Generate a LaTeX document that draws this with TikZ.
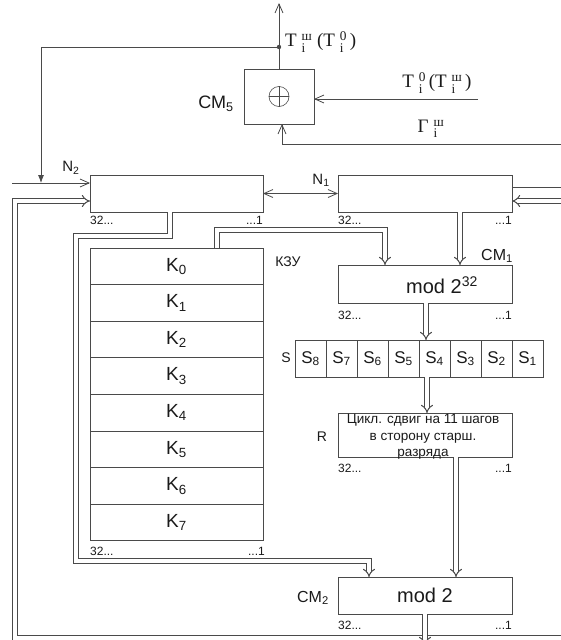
\documentclass[tikz,border=0pt]{standalone}
\usepackage{fontspec}
\usepackage{amsmath}
\setmainfont{Liberation Sans}
\newfontfamily\serifTR{Liberation Serif}
\usetikzlibrary{arrows.meta,calc}
\definecolor{lc}{HTML}{4A4A4A}
\definecolor{tc}{HTML}{1A1A1A}
\tikzset{
 box/.style={draw=lc, line width=0.8pt, rectangle, inner sep=0pt, outer sep=0pt, anchor=north west, text=tc},
 sl/.style={draw=lc, line width=0.8pt},
 sa/.style={sl, -{Straight Barb[length=9pt,width=8pt]}},
 dl/.style={draw=lc, line width=1pt, double=white, double distance=3.2pt},
 da/.style={dl, -{Implies[scale=1.25]}},
 lab/.style={text=tc, inner sep=0pt},
 numl/.style={lab, anchor=west, font=\fontsize{12}{12}\selectfont},
 numr/.style={lab, anchor=east, font=\fontsize{12}{12}\selectfont},
 kcell/.style={box, minimum width=173pt, minimum height=36.6pt, font=\fontsize{19}{19}\selectfont},
 scell/.style={box, minimum width=31pt, minimum height=37pt, font=\fontsize{17}{17}\selectfont},
 wide/.style={box, minimum width=174pt},
}
\begin{document}
\begin{tikzpicture}[x=1pt,y=-1pt]
\useasboundingbox (0,0) rectangle (560,640);

% ---------- CM5 ----------
\node[box, minimum width=70pt, minimum height=55pt] (CM5) at (244,69) {};
\node[circle, draw=lc, line width=0.6pt, minimum size=20pt, inner sep=0pt] (xor) at (CM5.center) {};
\draw[lc, line width=0.6pt] (xor.north) -- (xor.south) (xor.west) -- (xor.east);
\node[lab, font=\fontsize{18}{18}\selectfont] (cm5l) at (216,104) {CM\textsubscript{5}};

\coordinate (top) at (279,3);
\coordinate (jn) at (279,47);
\coordinate (fbc) at (41,47);
\coordinate (fbend) at (41,183);
\draw[sa] (CM5.north) -- (top);
\draw[sl, -{Latex[length=8pt,width=6pt]}] (jn) -- (fbc) -- (fbend);
\fill[lc] (jn) circle (2.2pt);
\node[lab, anchor=west, font=\serifTR\fontsize{19}{19}\selectfont] (tout) at (285,42)
  {$\text{T}\;^{\text{ш}}_{\text{i}}\;\text{(T}\;^{\text{0}}_{\text{i}}\,\text{)}$};

\coordinate (tin) at (478,99);
\draw[sa] (tin) -- (tin -| CM5.east);
\node[lab, font=\serifTR\fontsize{19}{19}\selectfont] (tinl) at (437,83)
  {$\text{T}\;^{\text{0}}_{\text{i}}\,\text{(T}\;^{\text{ш}}_{\text{i}}\,\text{)}$};

\coordinate (gin) at (565,144);
\draw[sa] (gin) -| ([xshift=3pt]CM5.south);
\node[lab, font=\serifTR\fontsize{19}{19}\selectfont] (gl) at (431,129)
  {$\text{Γ}\;^{\text{ш}}_{\text{i}}$};

% ---------- registers N2, N1 ----------
\node[box, minimum width=173pt, minimum height=37pt] (N2) at (90,175) {};
\node[wide, minimum height=37pt] (N1) at (338,175) {};
\node[lab, font=\fontsize{15}{15}\selectfont] (n2l) at (71,168) {N\textsubscript{2}};
\node[lab, font=\fontsize{15}{15}\selectfont] (n1l) at (321,180) {N\textsubscript{1}};

\coordinate (lin) at (12,183);
\draw[sa] (lin) -- (lin -| N2.west);
\draw[sl, {Straight Barb[length=9pt,width=8pt]}-{Straight Barb[length=9pt,width=8pt]}] (N2.east) -- (N1.west);
\coordinate (rout) at (565,187);
\draw[sl] (rout -| N1.east) -- (rout);
\coordinate (rin) at (565,201);
\draw[da] (rin) -- (rin -| N1.east);

\node[numl] (n2a) at ([yshift=-8pt]N2.south west) {32...};
\node[numr] (n2b) at ([yshift=-8pt]N2.south east) {...1};
\node[numl] (n1a) at ([yshift=-8pt]N1.south west) {32...};
\node[numr] (n1b) at ([yshift=-8pt]N1.south east) {...1};

% ---------- key store ----------
\foreach \i in {0,...,7}
  \node[kcell] (K\i) at (90,{248+36.6*\i}) {K\textsubscript{\i}};
\node[lab, font=\fontsize{14}{14}\selectfont] (kzu) at (288,262) {КЗУ};
\node[numl] (ka) at ([yshift=-11pt]K7.south west) {32...};
\node[numr] (kb) at ([xshift=2pt,yshift=-11pt]K7.south east) {...1};

% ---------- CM1 ----------
\node[wide, minimum height=38pt] (M32) at (338,265) {};
\node[lab, font=\fontsize{20}{20}\selectfont] (m32t) at (442,285) {mod 2\textsuperscript{32}};
\node[lab, font=\fontsize{16}{16}\selectfont] (cm1l) at (497,256) {CM\textsubscript{1}};
\node[numl] (ma) at ([yshift=-12pt]M32.south west) {32...};
\node[numr] (mb) at ([yshift=-12pt]M32.south east) {...1};

% ---------- S boxes ----------
\foreach \j/\s in {0/8,1/7,2/6,3/5,4/4,5/3,6/2,7/1}
  \node[scell] (S\s) at ({295+31*\j},340) {S\textsubscript{\s}};
\node[lab, font=\fontsize{14}{14}\selectfont] (slab) at (286,358) {S};

% ---------- R ----------
\node[wide, minimum height=44pt] (R) at (338,413) {};
\node[lab, align=center, font=\fontsize{13.5}{16.5}\selectfont] (Rt) at (423,437)
  {Цикл. сдвиг на 11 шагов\\в сторону старш.\\разряда};
\node[lab, font=\fontsize{14}{14}\selectfont] (rl) at (322,437) {R};
\node[numl] (ra) at ([yshift=-11pt]R.south west) {32...};
\node[numr] (rb) at ([yshift=-11pt]R.south east) {...1};

% ---------- CM2 ----------
\node[wide, minimum height=37pt, font=\fontsize{20}{20}\selectfont] (M2) at (338,577) {mod 2};
\node[lab, font=\fontsize{16}{16}\selectfont] (cm2l) at (313,598) {CM\textsubscript{2}};
\node[numl] (m2a) at ([yshift=-11pt]M2.south west) {32...};
\node[numr] (m2b) at ([yshift=-11pt]M2.south east) {...1};

% ---------- double buses ----------
\coordinate (br) at (565,638);
\coordinate (bl) at (15,638);
\coordinate (blt) at (15,201);
\draw[da] (br) -- (bl) -- (blt) -- (blt -| N2.west);
\coordinate (kl) at (76,561);
\draw[da] ([xshift=80pt]N2.south west) -- ++(0,24) -| (kl) -| ([xshift=31pt]M2.north west);
\draw[da] ([xshift=127pt]K0.north west) -- ++(0,-18) -| ([xshift=47pt]M32.north west);
\draw[da] ([xshift=122pt]N1.south west) -- ([xshift=122pt]M32.north west);
\draw[da] ([xshift=88pt]M32.south west) -- ([xshift=7pt]S4.north west);
\draw[da] ([xshift=8pt]S4.south west) -- ([xshift=89pt]R.north west);
\draw[da] ([xshift=118pt]R.south west) -- ([xshift=118pt]M2.north west);
\coordinate (mout) at (425,645);
\draw[da] (M2.south) -- (mout);
\end{tikzpicture}
\end{document}
